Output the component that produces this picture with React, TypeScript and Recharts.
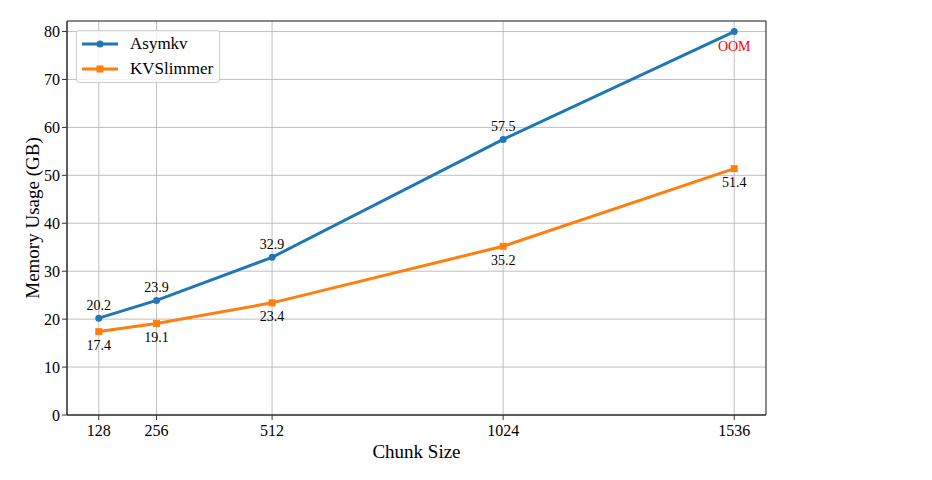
import React from 'react'
import {
    LineChart,
    Line,
    XAxis,
    YAxis,
    CartesianGrid,
    LabelList,
    ReferenceArea,
} from 'recharts'

const chunkSizes = [128, 256, 512, 1024, 1536]
const asymkvValues = [20.2, 23.9, 32.9, 57.5, 80]
const asymkvLabels = ['20.2', '23.9', '32.9', '57.5', 'OOM']
const kvslimmerValues = [17.4, 19.1, 23.4, 35.2, 51.4]
const kvslimmerLabels = ['17.4', '19.1', '23.4', '35.2', '51.4']
const yTicks = [0, 10, 20, 30, 40, 50, 60, 70, 80]
const seriesNames = ['Asymkv', 'KVSlimmer']

const X_DOMAIN = [57.6, 1606.4]
const Y_DOMAIN = [0, 82.2]

const BLUE = '#1f77b4'
const ORANGE = '#ff7f0e'
const FONT = '"Liberation Serif", "Times New Roman", serif'

const data = chunkSizes.map((size, i) => ({
    size,
    asymkv: asymkvValues[i],
    kvslimmer: kvslimmerValues[i],
}))

// label above the point for Asymkv, except the OOM marker which sits below in red
const AsymLabel = (props: any) => {
    const { x, y, index } = props
    const text = asymkvLabels[index]
    const isOom = text === 'OOM'
    return (
        <text
            x={x}
            y={isOom ? y + 15 : y - 13}
            textAnchor="middle"
            dominantBaseline="central"
            fontSize={14}
            fontFamily={FONT}
            fill={isOom ? '#ff0000' : '#000'}
        >
            {text}
        </text>
    )
}

const SlimLabel = (props: any) => {
    const { x, y, index } = props
    return (
        <text
            x={x}
            y={y + 14}
            textAnchor="middle"
            dominantBaseline="central"
            fontSize={14}
            fontFamily={FONT}
            fill="#000"
        >
            {kvslimmerLabels[index]}
        </text>
    )
}

const SquareDot = (props: any) => {
    const { cx, cy } = props
    if (cx == null || cy == null) return null
    return <rect x={cx - 3.5} y={cy - 3.5} width={7} height={7} fill={ORANGE} />
}

const LegendBox = () => (
    <div
        style={{
            position: 'absolute',
            left: 76,
            top: 30,
            width: 144,
            height: 53,
            border: '1px solid #d0d0d0',
            borderRadius: 3,
            background: 'rgba(255,255,255,0.8)',
            fontFamily: FONT,
            fontSize: 17,
            boxSizing: 'border-box',
        }}
    >
        {seriesNames.map((name, i) => {
            const color = i === 0 ? BLUE : ORANGE
            return (
                <div key={name} style={{ position: 'absolute', left: 4, top: 3 + i * 25, height: 20, display: 'flex', alignItems: 'center' }}>
                    <svg width={38} height={20}>
                        <line x1={1} x2={37} y1={10} y2={10} stroke={color} strokeWidth={3} />
                        {i === 1 ? (
                            <rect x={15.5} y={6.5} width={7} height={7} fill={color} />
                        ) : (
                            <circle cx={19} cy={10} r={3.5} fill={color} />
                        )}
                    </svg>
                    <span style={{ marginLeft: 11, color: '#000' }}>{name}</span>
                </div>
            )
        })}
    </div>
)

export default function App() {
    return (
        <div style={{ position: 'absolute', left: 0, top: 0, width: 932, height: 480, background: '#fff' }}>
            <LineChart width={932} height={480} data={data} margin={{ top: 21, right: 166, bottom: 0, left: 0 }}>
                <CartesianGrid stroke="#b0b0b0" strokeWidth={1} strokeOpacity={0.8} />
                <XAxis
                    dataKey="size"
                    type="number"
                    domain={X_DOMAIN}
                    ticks={chunkSizes}
                    allowDataOverflow
                    height={65}
                    tickSize={5}
                    tickMargin={5}
                    stroke="#333"
                    tick={{ fontSize: 16, fill: '#000', fontFamily: FONT }}
                    label={(p: any) => {
                        const vb = p.viewBox
                        return (
                            <text
                                x={vb.x + vb.width / 2}
                                y={451}
                                textAnchor="middle"
                                dominantBaseline="central"
                                fontSize={19}
                                fontFamily={FONT}
                                fill="#000"
                            >
                                Chunk Size
                            </text>
                        )
                    }}
                />
                <YAxis
                    type="number"
                    domain={Y_DOMAIN}
                    ticks={yTicks}
                    allowDataOverflow
                    width={67}
                    tickSize={5}
                    tickMargin={2}
                    stroke="#333"
                    tick={{ fontSize: 16, fill: '#000', fontFamily: FONT }}
                    label={(p: any) => {
                        const vb = p.viewBox
                        const cy = vb.y + vb.height / 2
                        return (
                            <text
                                x={32}
                                y={cy}
                                transform={`rotate(-90, 32, ${cy})`}
                                textAnchor="middle"
                                dominantBaseline="central"
                                fontSize={19}
                                fontFamily={FONT}
                                fill="#000"
                            >
                                Memory Usage (GB)
                            </text>
                        )
                    }}
                />
                <ReferenceArea
                    x1={X_DOMAIN[0]}
                    x2={X_DOMAIN[1]}
                    y1={Y_DOMAIN[0]}
                    y2={Y_DOMAIN[1]}
                    fill="none"
                    stroke="#333"
                    strokeWidth={1}
                    ifOverflow="visible"
                />
                <Line
                    type="linear"
                    dataKey="asymkv"
                    name="Asymkv"
                    stroke={BLUE}
                    strokeWidth={3}
                    dot={{ r: 3.5, fill: BLUE, stroke: BLUE, strokeWidth: 0 }}
                    activeDot={false}
                    isAnimationActive={false}
                >
                    <LabelList dataKey="asymkv" content={AsymLabel} />
                </Line>
                <Line
                    type="linear"
                    dataKey="kvslimmer"
                    name="KVSlimmer"
                    stroke={ORANGE}
                    strokeWidth={3}
                    dot={<SquareDot />}
                    activeDot={false}
                    isAnimationActive={false}
                >
                    <LabelList dataKey="kvslimmer" content={SlimLabel} />
                </Line>
            </LineChart>
            <LegendBox />
        </div>
    )
}
